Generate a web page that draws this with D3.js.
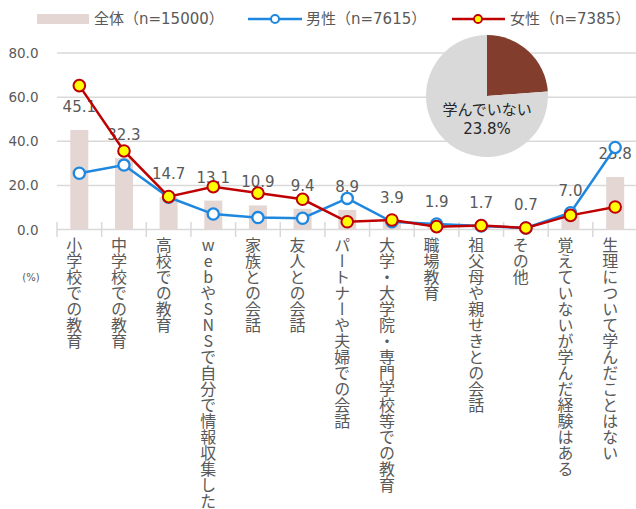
<!DOCTYPE html>
<html><head><meta charset="utf-8">
<script src="https://cdn.jsdelivr.net/npm/d3@7"></script>
<style>body{margin:0;background:#fff} svg{display:block}</style>
</head><body><svg id="c" width="636" height="509"></svg>
<script>
const categories = ["小学校での教育","中学校での教育","高校での教育","webやSNSで自分で情報収集した","家族との会話","友人との会話","パートナーや夫婦での会話","大学・大学院・専門学校等での教育","職場教育","祖父母や親せきとの会話","その他","覚えていないが学んだ経験はある","生理について学んだことはない"];
const totalValues = [45.1,32.3,14.7,13.1,10.9,9.4,8.9,3.9,1.9,1.7,0.7,7.0,23.8];
const maleValues = [25.5,29.2,14.6,7.0,5.4,5.1,14.1,3.5,2.5,1.6,0.7,7.6,37.2];
const femaleValues = [65.2,35.6,14.9,19.4,16.5,13.7,3.5,4.3,1.3,1.8,0.7,6.4,10.2];
const yTicks = [0,20,40,60,80];
const legendLabels = ["全体（n=15000）","男性（n=7615）","女性（n=7385）"];
const pieValues = [23.8, 76.2];
const pieLabel = ["学んでいない","23.8%"];

const svg = d3.select("#c");
const NUM = "'DejaVu Sans','Noto Sans CJK JP',sans-serif";
const JP = "'Noto Sans CJK JP','DejaVu Sans',sans-serif";
const MIX = "'DejaVu Sans','Noto Sans CJK JP',sans-serif";
const gridC = "#d9d9d9", textC = "#595959";
const barC = "#e3d6d3", blueC = "#1e88e0", redC = "#c00000", yelC = "#ffff00";

const x = d3.scaleBand().domain(categories).range([57, 637.5]).padding(0);
const y = d3.scaleLinear().domain([0,80]).range([229.5, 53]);

// gridlines
svg.append("g").selectAll("line").data(yTicks).join("line")
  .attr("x1",57).attr("x2",636).attr("y1",d=>y(d)).attr("y2",d=>y(d))
  .attr("stroke",gridC).attr("stroke-width",1.5);

// ticks at band boundaries
const bounds = categories.map(c=>x(c));
svg.append("g").selectAll("line").data(bounds).join("line")
  .attr("x1",d=>d).attr("x2",d=>d).attr("y1",y(0)-7.5).attr("y2",y(0)+7.5)
  .attr("stroke",gridC).attr("stroke-width",1.5);

// y labels
svg.append("g").selectAll("text").data(yTicks).join("text")
  .attr("x",38.5).attr("y",d=>y(d)).attr("text-anchor","end").attr("dominant-baseline","central")
  .attr("font-family",NUM).attr("font-size",13.5).attr("fill",textC)
  .text(d=>d.toFixed(1));
svg.append("text").attr("x",31).attr("y",277).attr("text-anchor","middle").attr("dominant-baseline","central")
  .attr("font-family",NUM).attr("font-size",10).attr("fill",textC).text("(%)");

// bars
const bw = 18;
svg.append("g").selectAll("rect").data(totalValues).join("rect")
  .attr("x",(d,i)=>x(categories[i])+x.bandwidth()/2-bw/2)
  .attr("y",d=>y(d)).attr("width",bw).attr("height",d=>y(0)-y(d))
  .attr("fill",barC);

// data labels
svg.append("g").selectAll("text").data(totalValues).join("text")
  .attr("x",(d,i)=>x(categories[i])+x.bandwidth()/2)
  .attr("y",d=>y(d)-23).attr("text-anchor","middle").attr("dominant-baseline","central")
  .attr("font-family",NUM).attr("font-size",15).attr("fill",textC)
  .text(d=>d.toFixed(1));

// category labels vertical
svg.append("g").selectAll("text").data(categories).join("text")
  .attr("x",d=>x(d)+x.bandwidth()/2-5).attr("y",237)
  .attr("font-family",JP).attr("font-size",16).attr("fill",textC)
  .style("writing-mode","vertical-rl").style("text-orientation","upright")
  .text(d=>d);

// lines
const cx = i=>x(categories[i])+x.bandwidth()/2;
const line = d3.line().x((d,i)=>cx(i)).y(d=>y(d));
svg.append("path").datum(maleValues).attr("d",line).attr("fill","none").attr("stroke",blueC).attr("stroke-width",2.5);
svg.append("g").selectAll("circle").data(maleValues).join("circle")
  .attr("cx",(d,i)=>cx(i)).attr("cy",d=>y(d)).attr("r",5.6)
  .attr("fill","#fff").attr("stroke",blueC).attr("stroke-width",2.3);
svg.append("path").datum(femaleValues).attr("d",line).attr("fill","none").attr("stroke",redC).attr("stroke-width",2.5);
svg.append("g").selectAll("circle").data(femaleValues).join("circle")
  .attr("cx",(d,i)=>cx(i)).attr("cy",d=>y(d)).attr("r",5.8)
  .attr("fill",yelC).attr("stroke",redC).attr("stroke-width",2);

// pie
const pie = d3.pie().sort(null).startAngle(0).endAngle(2*Math.PI);
const arc = d3.arc().innerRadius(0).outerRadius(61);
const pg = svg.append("g").attr("transform","translate(487,96)");
pg.selectAll("path").data(pie(pieValues)).join("path").attr("d",arc)
  .attr("fill",(d,i)=>i===0?"#823d2d":"#d9d9d9");
pg.selectAll("text").data(pieLabel).join("text")
  .attr("x",0).attr("y",(d,i)=>i===0?14:33).attr("text-anchor","middle").attr("dominant-baseline","central")
  .attr("font-family",MIX).attr("font-size",15).attr("fill","#262626").text(d=>d);

// legend
const ly = 19;
const lg = svg.append("g").attr("font-family",MIX).attr("font-size",15).attr("fill",textC);
lg.append("rect").attr("x",37).attr("y",14).attr("width",52).attr("height",10).attr("fill",barC);
lg.append("text").attr("x",94).attr("y",ly).attr("dominant-baseline","central").text(legendLabels[0]);
lg.append("line").attr("x1",248).attr("x2",302).attr("y1",ly).attr("y2",ly).attr("stroke",blueC).attr("stroke-width",2.5);
lg.append("circle").attr("cx",275).attr("cy",ly).attr("r",4).attr("fill","#fff").attr("stroke",blueC).attr("stroke-width",2);
lg.append("text").attr("x",306).attr("y",ly).attr("dominant-baseline","central").text(legendLabels[1]);
lg.append("line").attr("x1",452).attr("x2",505).attr("y1",ly).attr("y2",ly).attr("stroke",redC).attr("stroke-width",2.5);
lg.append("circle").attr("cx",478).attr("cy",ly).attr("r",4).attr("fill",yelC).attr("stroke",redC).attr("stroke-width",1.8);
lg.append("text").attr("x",510).attr("y",ly).attr("dominant-baseline","central").text(legendLabels[2]);
</script></body></html>
